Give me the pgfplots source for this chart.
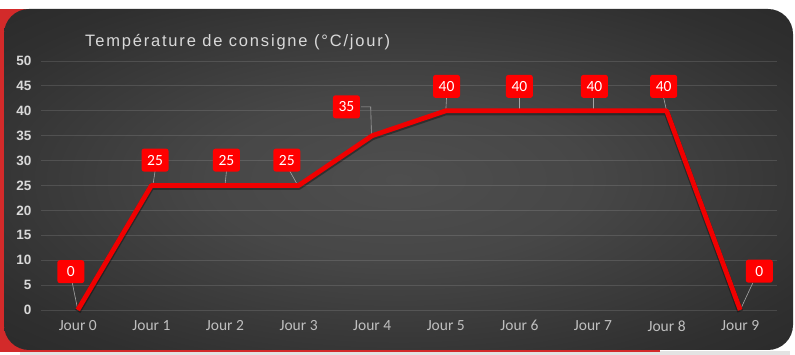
\documentclass[border=0pt]{standalone}
\usepackage{pgfplots}
\pgfplotsset{compat=1.18}
\usepackage{fontspec}
\setmainfont{Carlito}
\newfontfamily\arialf{Liberation Sans}
\newfontfamily\titlef[LetterSpace=11]{Liberation Sans}
\definecolor{lred}{HTML}{F00000}
\definecolor{boxred}{HTML}{FF0000}
\definecolor{panelout}{HTML}{1F1F1F}
\definecolor{panelin}{HTML}{4E4E4E}
\definecolor{stripred}{HTML}{D32A2A}
\definecolor{ticktxt}{HTML}{D9D9D9}
\definecolor{xtxt}{HTML}{BFBFBF}
\pgfdeclareradialshading{panelshade}{\pgfpoint{0bp}{0bp}}{color(0bp)=(panelin); color(12bp)=(panelin!85!panelout); color(30bp)=(panelin!35!panelout); color(50bp)=(panelout)}
\begin{document}
\begin{tikzpicture}[x=1pt,y=1pt,
  lbl/.style={fill=boxred, rounded corners=2.5pt, text=white, font=\fontsize{15.5}{15.5}\selectfont, minimum width=27pt, minimum height=23pt, inner sep=2pt},
  ldr/.style={draw=gray!70, line width=0.6pt}]
\fill[white] (0,0) rectangle (795,355);
\fill[gray!22] (20,0) rectangle (790,4);
\fill[stripred] (0,3) rectangle (660,346);
\shade[shading=panelshade, rounded corners=25pt] (4,5) rectangle (793,346);
\node[anchor=west, text=ticktxt, font=\titlef\fontsize{16.5}{16.5}\selectfont, inner sep=0pt] at (85,313) {Température de consigne (°C/jour)};
\begin{axis}[
  at={(41pt,45pt)}, anchor=south west, scale only axis,
  width=736pt, height=249pt,
  xmin=-0.5, xmax=9.5, ymin=0, ymax=50,
  axis line style={draw=none}, tick style={draw=none},
  ymajorgrids, grid style={white, opacity=0.12, line width=0.8pt},
  ytick={0,5,...,50},
  xtick={0,1,2,3,4,5,6,7,8,9},
  xticklabels={Jour 0,Jour 1,Jour 2,Jour 3,Jour 4,Jour 5,Jour 6,Jour 7,Jour 8,Jour 9},
  /pgf/number format/assume math mode=true,
  yticklabel style={font=\arialf\bfseries\fontsize{13.5}{14}\selectfont, text=ticktxt, xshift=-6pt},
  xticklabel style={font=\fontsize{15.5}{15.5}\selectfont, text=xtxt, yshift=-7pt},
  clip=false,
]
\draw[ldr] (axis cs:-0.08,5.8) -- (axis cs:0,0);
\draw[ldr] (axis cs:1.05,27.9) -- (axis cs:1.02,25);
\draw[ldr] (axis cs:2.02,27.9) -- (axis cs:2.0,25);
\draw[ldr] (axis cs:2.88,27.9) -- (axis cs:2.99,25);
\draw[ldr] (axis cs:3.85,40.8) -- (axis cs:3.98,40.8) -- (axis cs:3.99,35);
\draw[ldr] (axis cs:5.01,42.6) -- (axis cs:5,40);
\draw[ldr] (axis cs:6.0,42.6) -- (axis cs:6,40);
\draw[ldr] (axis cs:7.0,42.6) -- (axis cs:7,40);
\draw[ldr] (axis cs:7.96,42.6) -- (axis cs:8,40);
\draw[ldr] (axis cs:9.17,5.4) -- (axis cs:9,0);
\addplot[lred, line width=4.8pt, line join=round, mark=none,
  preaction={draw=black, draw opacity=0.35, line width=6pt, transform canvas={yshift=-1.5pt}}]
  coordinates {(0,0) (1,25) (2,25) (3,25) (4,35) (5,40) (6,40) (7,40) (8,40) (9,0)};
\node[lbl] at (axis cs:-0.095,7.7) {0};
\node[lbl] at (axis cs:1.05,30.1) {25};
\node[lbl] at (axis cs:2.02,30.1) {25};
\node[lbl] at (axis cs:2.84,30.1) {25};
\node[lbl] at (axis cs:3.65,40.8) {35};
\node[lbl] at (axis cs:5.01,44.9) {40};
\node[lbl] at (axis cs:6.0,44.9) {40};
\node[lbl] at (axis cs:7.02,44.9) {40};
\node[lbl] at (axis cs:7.96,44.9) {40};
\node[lbl] at (axis cs:9.26,7.8) {0};
\end{axis}
\end{tikzpicture}
\end{document}
